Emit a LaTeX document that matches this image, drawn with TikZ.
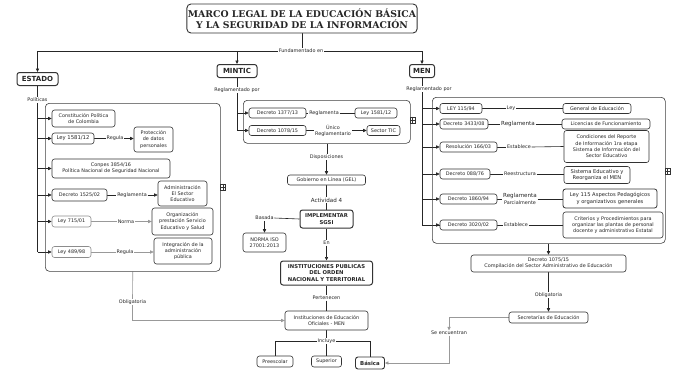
\documentclass[tikz,border=0pt]{standalone}
\usepackage{fontspec}
\setmainfont{DejaVu Sans}
\newfontfamily\titlefont{DejaVu Serif}
\usetikzlibrary{arrows.meta,backgrounds}

\begin{document}
\begin{tikzpicture}[x=1pt,y=-1pt,
  every node/.style={font=\fontsize{4.9}{6.3}\selectfont, text=black!85},
  box/.style={draw=black!80, line width=0.6pt, rounded corners=2.5pt, fill=white, align=center, inner sep=1pt},
  bbox/.style={box, line width=1pt, font=\fontsize{5.3}{6.5}\selectfont\bfseries},
  hbox/.style={box, line width=1pt, font=\fontsize{7}{8}\selectfont\bfseries},
  grp/.style={draw=black!75, line width=0.6pt, rounded corners=4pt, inner sep=0pt, anchor=north west},
  iconb/.style={draw=black!80, line width=0.5pt, minimum width=5, minimum height=6, inner sep=0pt},
  lbl/.style={fill=white, inner sep=0.6pt, align=center},
  ln/.style={draw=black!85, line width=0.6pt},
  gln/.style={draw=black!40, line width=0.6pt},
  arr/.style={-{Triangle[length=3.5pt,width=3.2pt]}},
]
\useasboundingbox (0,0) rectangle (674,375);

% ---------- title and heads
\node[box, line width=0.9pt, rounded corners=4pt, minimum width=226, minimum height=29,
      font=\titlefont\bfseries\fontsize{9.3}{10.8}\selectfont] (title) at (302,18.5)
      {MARCO LEGAL DE LA EDUCACIÓN BÁSICA\\Y LA SEGURIDAD DE LA INFORMACIÓN};
\node[lbl] (fund) at (301,51) {Fundamentado en};
\node[hbox, minimum width=41, minimum height=13] (estado) at (37.5,79) {ESTADO};
\node[hbox, minimum width=40, minimum height=13] (mintic) at (237,71) {MINTIC};
\node[hbox, minimum width=25, minimum height=13] (men) at (422,71) {MEN};

% ---------- ESTADO
\node[lbl] (polit) at (37.5,100) {Políticas};
\node[grp, minimum width=175, minimum height=168] (estG) at (45,103) {};
\node[iconb] (ic1) at (223,187) {};
\node[box, minimum width=63, minimum height=17] (const) at (83.5,118.5) {Constitución Política\\de Colombia};
\node[box, minimum width=42, minimum height=11, font=\fontsize{5.3}{6.3}\selectfont] (ley1581) at (73,138.5) {Ley 1581/12};
\node[box, minimum width=39, minimum height=25] (prot) at (153.5,139.5) {Protección\\de datos\\personales};
\node[box, minimum width=118, minimum height=19] (conpes) at (111,168.5) {Conpes 3854/16\\Política Nacional de Seguridad Nacional};
\node[box, minimum width=55, minimum height=12] (dec1525) at (79.5,195) {Decreto 1525/02};
\node[box, minimum width=49, minimum height=25] (admin) at (182.5,193.5) {Administración\\El Sector\\Educativo};
\node[box, draw=black!45, minimum width=39, minimum height=11] (ley715) at (71.5,221.5) {Ley 715/01};
\node[box, minimum width=61, minimum height=27] (org) at (182.5,221.5) {Organización\\prestación Servicio\\Educativo y Salud};
\node[box, draw=black!45, minimum width=39, minimum height=11] (ley489) at (71.5,252) {Ley 489/98};
\node[box, minimum width=58, minimum height=26] (integ) at (183,251) {Integración de la\\administración\\pública};
\node[lbl] (lReg1) at (115,138.5) {Regula};
\node[lbl] (lRegl2) at (132,195) {Reglamenta};
\node[lbl] (lNorma) at (126,221.5) {Norma};
\node[lbl] (lReg3) at (125,252) {Regula};
\node[lbl] (obl) at (132.5,302) {Obligatoria};

% ---------- MINTIC
\node[lbl] (regM) at (237,90) {Reglamentado por};
\node[grp, minimum width=167, minimum height=43] (mintG) at (243,100) {};
\node[iconb] (ic2) at (412.5,120) {};
\node[box, minimum width=57, minimum height=10] (dec1377) at (277.5,113) {Decreto 1377/13};
\node[box, minimum width=42, minimum height=10] (ley1581b) at (376,113) {Ley 1581/12};
\node[box, minimum width=57, minimum height=10] (dec1078) at (277.5,130.5) {Decreto 1078/15};
\node[box, minimum width=33, minimum height=10] (tic) at (383.5,130.5) {Sector TIC};
\node[lbl] (lRegM) at (324,113) {Reglamenta};
\node[lbl] (lUnico) at (333,130.5) {Único\\Reglamentario};
\node[lbl] (disp) at (326.5,157) {Disposiciones};
\node[box, minimum width=78, minimum height=10] (gel) at (326.5,180) {Gobierno en Línea (GEL)};
\node[lbl, font=\fontsize{5.6}{6.6}\selectfont] (act4) at (326.5,200) {Actividad 4};
\node[bbox, minimum width=53, minimum height=18] (impl) at (326.5,219) {IMPLEMENTAR\\SGSI};
\node[lbl] (basada) at (264.5,218) {Basada};
\node[box, minimum width=43, minimum height=19] (iso) at (264.5,242.5) {NORMA ISO\\27001:2013};
\node[lbl] (en) at (326.5,243) {En};
\node[bbox, minimum width=92, minimum height=24] (instPub) at (326.5,273) {INSTITUCIONES PUBLICAS\\DEL ORDEN\\NACIONAL Y TERRITORIAL};
\node[lbl] (pert) at (326.5,298) {Pertenecen};
\node[box, minimum width=83, minimum height=19] (instEd) at (326.5,320.5) {Instituciones de Educación\\Oficiales - MEN};
\node[lbl] (incl) at (326.5,341) {Incluye};
\node[box, minimum width=36, minimum height=11] (pre) at (275,361.5) {Preescolar};
\node[box, minimum width=30, minimum height=11] (sup) at (326.5,361.5) {Superior};
\node[box, line width=0.9pt, minimum width=29, minimum height=12, font=\fontsize{5.4}{6.4}\selectfont\bfseries] (bas) at (370,363) {Básica};

% ---------- MEN
\node[lbl] (regMen) at (429,89) {Reglamentado por};
\node[grp, minimum width=233, minimum height=146] (menG) at (432,97) {};
\node[iconb] (ic3) at (667.5,171) {};
\node[box, minimum width=42, minimum height=10] (ley115) at (461,108.5) {LEY 115/94};
\node[box, minimum width=68, minimum height=10] (genEd) at (597,108.5) {General de Educación};
\node[box, minimum width=48, minimum height=10] (dec3433) at (464,124) {Decreto 3433/08};
\node[box, minimum width=88, minimum height=10] (lic) at (606,124) {Licencias de Funcionamiento};
\node[box, minimum width=57, minimum height=10] (res166) at (468.5,147) {Resolución 166/03};
\node[box, minimum width=85, minimum height=32] (cond) at (606.5,146.5) {Condiciones del Reporte\\de Información 1ra etapa\\Sistema de Información del\\Sector Educativo};
\node[box, minimum width=50, minimum height=10] (dec088) at (465,174) {Decreto 088/76};
\node[box, minimum width=66, minimum height=17, font=\fontsize{5.2}{6.3}\selectfont] (sist) at (597,175) {Sistema Educativo y\\Reorganiza el MEN};
\node[box, minimum width=57, minimum height=10] (dec1860) at (468.5,199) {Decreto 1860/94};
\node[box, line width=0.8pt, minimum width=94, minimum height=19, font=\fontsize{5.2}{6.3}\selectfont] (ley115asp) at (610,198.5) {Ley 115 Aspectos Pedagógicos\\y organizativos generales};
\node[box, minimum width=57, minimum height=10] (dec3020) at (468.5,225) {Decreto 3020/02};
\node[box, minimum width=100, minimum height=26] (crit) at (613,225) {Criterios y Procedimientos para\\organizar las plantas de personal\\docente y administrativo Estatal};
\node[lbl] (lLey) at (511,108.5) {Ley};
\node[lbl, font=\fontsize{5.6}{6.6}\selectfont] (lReglM) at (518,124) {Reglamenta};
\node[lbl] (lEst1) at (519,147) {Establece};
\node[lbl] (lReest) at (520,174) {Reestructura};
\node[lbl] (lRegPar) at (520,199) {{\fontsize{5.6}{6.6}\selectfont Reglamenta}\\Parcialmente};
\node[lbl] (lEst2) at (516,225) {Establece};
\node[box, minimum width=155, minimum height=17] (dec1075) at (548.5,263.5) {Decreto 1075/15\\Compilación del Sector Administrativo de Educación};
\node[lbl] (obl2) at (548.5,295) {Obligatoria};
\node[box, minimum width=79, minimum height=11] (secr) at (548.5,317.5) {Secretarías de Educación};
\node[lbl] (seEn) at (449,333) {Se encuentran};

% ---------- connectors
\begin{pgfonlayer}{background}
\fill[white] (0,0) rectangle (674,375);
\draw[ln] (title.south) -- (fund.north -| title.south);
\draw[ln,arr] (fund.west) -| (estado.north);
\draw[ln,arr] (fund.east) -| (men.north);
\draw[ln,arr] (mintic.north |- fund.west) -- (mintic.north);
% ESTADO trunk
\draw[ln] (estado.south) -- (polit.north);
\draw[ln] (polit.south) -- (ley489.west -| estado.south);
\foreach \n in {const,ley1581,conpes,dec1525,ley715,ley489}
  \draw[ln,arr] (\n.west -| estado.south) -- (\n.west);
\draw[ln] (ley1581.east) -- (lReg1.west);
\draw[ln,arr] (lReg1.east) -- (lReg1.east -| prot.west);
\draw[ln] (dec1525.east) -- (lRegl2.west);
\draw[ln,arr] (lRegl2.east) -- (lRegl2.east -| admin.west);
\draw[gln] (ley715.east) -- (lNorma.west);
\draw[gln,arr] (lNorma.east) -- (lNorma.east -| org.west);
\draw[gln] (ley489.east) -- (lReg3.west);
\draw[gln,arr] (lReg3.east) -- (lReg3.east -| integ.west);
\draw[gln] (estG.south) -- (obl.north);
\draw[gln,arr] (obl.south) |- (instEd.west);
% MINTIC
\draw[ln] (mintic.south) -- (regM.north);
\draw[ln] (regM.south) -- (dec1078.west -| mintic.south);
\foreach \n in {dec1377,dec1078}
  \draw[ln,arr] (\n.west -| mintic.south) -- (\n.west);
\draw[ln] (dec1377.east) -- (lRegM.west);
\draw[ln] (lRegM.east) -- (ley1581b.west);
\draw[ln] (dec1078.east) -- (lUnico.west);
\draw[ln,arr] (lUnico.east) -- (tic.west);
\draw[ln] (mintG.south) -- (disp.north -| mintG.south);
\draw[ln,arr] (disp.south) -- (gel.north);
\draw[ln] (gel.south) -- (act4.north);
\draw[ln] (act4.south) -- (impl.north);
\draw[ln] (impl.west) -- (basada.east);
\draw[ln,arr] (basada.south) -- (iso.north);
\draw[ln] (impl.south) -- (en.north);
\draw[ln,arr] (en.south) -- (instPub.north);
\draw[ln] (instPub.south) -- (pert.north);
\draw[ln] (pert.south) -- (instEd.north);
\draw[ln] (instEd.south) -- (incl.north);
\draw[ln] (incl.west) -| (pre.north);
\draw[ln] (incl.east) -| (bas.north);
\draw[ln] (incl.south) -- (sup.north);
% MEN
\draw[ln] (men.south) -- (dec3020.west -| men.south) -- (dec3020.west);
\foreach \n in {ley115,dec3433,res166,dec088,dec1860,dec3020}
  \draw[ln,arr] (\n.west -| men.south) -- (\n.west);
\draw[ln] (ley115.east) -- (lLey.west);
\draw[ln] (lLey.east) -- (genEd.west);
\draw[ln] (dec3433.east) -- (lReglM.west);
\draw[ln] (lReglM.east) -- (lic.west);
\draw[ln] (res166.east) -- (lEst1.west);
\draw[ln] (lEst1.east) -- (cond.west);
\draw[ln] (dec088.east) -- (lReest.west);
\draw[ln] (lReest.east) -- (lReest.east -| sist.west);
\draw[ln] (dec1860.east) -- (lRegPar.west);
\draw[ln] (lRegPar.east) -- (lRegPar.east -| ley115asp.west);
\draw[ln] (dec3020.east) -- (lEst2.west);
\draw[ln] (lEst2.east) -- (crit.west);
\draw[ln,arr] (dec1075.north |- menG.south) -- (dec1075.north);
\draw[ln] (dec1075.south) -- (obl2.north);
\draw[ln,arr] (obl2.south) -- (secr.north);
\draw[gln,arr] (secr.west) -| (seEn.north);
\draw[gln,arr] (seEn.south) |- (bas.east);
\end{pgfonlayer}
% regMen label drawn over the trunk
\node[lbl] at (regMen) {Reglamentado por};

% icons inner marks
\foreach \i in {ic1,ic2,ic3}{
  \draw[line width=0.4pt,black!80] (\i.west) -- (\i.east);
  \draw[line width=0.4pt,black!80] (\i.north) -- (\i.south);
}
\end{tikzpicture}
\end{document}
